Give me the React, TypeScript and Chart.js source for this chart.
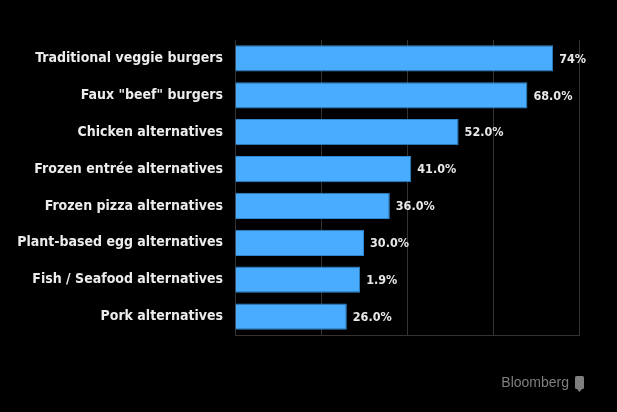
import React, { useEffect, useRef } from "react";
import { Chart, registerables } from "chart.js";

Chart.register(...registerables);

const categories = [
  "Traditional veggie burgers",
  "Faux \"beef\" burgers",
  "Chicken alternatives",
  "Frozen entrée alternatives",
  "Frozen pizza alternatives",
  "Plant-based egg alternatives",
  "Fish / Seafood alternatives",
  "Pork alternatives",
];
const barValues = [74, 68, 52, 41, 36, 30, 29.1, 26];
const valueLabels = ["74%", "68.0%", "52.0%", "41.0%", "36.0%", "30.0%", "1.9%", "26.0%"];
const xMin = 0;
const xMax = 80;
const xStep = 20;
const sourceText = "Bloomberg";

const FONT = "'DejaVu Sans Condensed', 'DejaVu Sans', sans-serif";

export default function App() {
  const ref = useRef<HTMLCanvasElement>(null);
  useEffect(() => {
    const canvas = ref.current!;
    const valuePlugin = {
      id: "valueLabels",
      afterDatasetsDraw(chart: any) {
        const ctx = chart.ctx;
        const meta = chart.getDatasetMeta(0);
        ctx.save();
        ctx.font = `bold 12.5px ${FONT}`;
        ctx.fillStyle = "#e8e8e8";
        ctx.textBaseline = "middle";
        ctx.textAlign = "left";
        meta.data.forEach((bar: any, i: number) => {
          ctx.fillText(valueLabels[i], bar.x + 6, bar.y + 1);
        });
        ctx.restore();
      },
      afterDraw(chart: any) {
        const ctx = chart.ctx;
        ctx.save();
        ctx.font = `14px 'Liberation Sans', 'DejaVu Sans', sans-serif`;
        ctx.fillStyle = "#7f7f7f";
        ctx.textBaseline = "middle";
        ctx.textAlign = "right";
        ctx.fillText(sourceText, 569, 383);
        // small logo glyph
        ctx.beginPath();
        ctx.roundRect(575, 376, 9, 13, 1.5);
        ctx.fill();
        ctx.beginPath();
        ctx.moveTo(577, 389);
        ctx.lineTo(579.5, 392);
        ctx.lineTo(582, 389);
        ctx.fill();
        ctx.restore();
      },
    };
    const chart = new Chart(canvas, {
      type: "bar",
      data: {
        labels: categories,
        datasets: [
          {
            data: barValues,
            backgroundColor: "#4aacff",
            borderColor: "#2f86cc",
            borderWidth: 1,
            barPercentage: 0.71,
            categoryPercentage: 1,
          },
        ],
      },
      options: {
        indexAxis: "y",
        animation: false,
        responsive: false,
        maintainAspectRatio: false,
        layout: { padding: { left: 0, top: 40, right: 38, bottom: 77 } },
        plugins: { legend: { display: false }, tooltip: { enabled: false } },
        scales: {
          x: {
            min: xMin,
            max: xMax,
            ticks: { display: false, stepSize: xStep },
            grid: { color: "#333333", lineWidth: 1, drawTicks: false },
            border: { display: true, color: "#333333" },
          },
          y: {
            grid: { display: false, drawTicks: false },
            border: { display: true, color: "#333333" },
            ticks: {
              color: "#ececec",
              padding: 12,
              font: { family: FONT, size: 14, weight: "bold" },
            },
            afterFit(scale: any) {
              scale.width = 235;
            },
          },
        },
      },
      plugins: [valuePlugin],
    });
    return () => chart.destroy();
  }, []);
  return (
    <div style={{ position: "fixed", left: 0, top: 0, width: 617, height: 412, background: "#000" }}>
      <canvas ref={ref} width={617} height={412} style={{ display: "block" }} />
    </div>
  );
}
